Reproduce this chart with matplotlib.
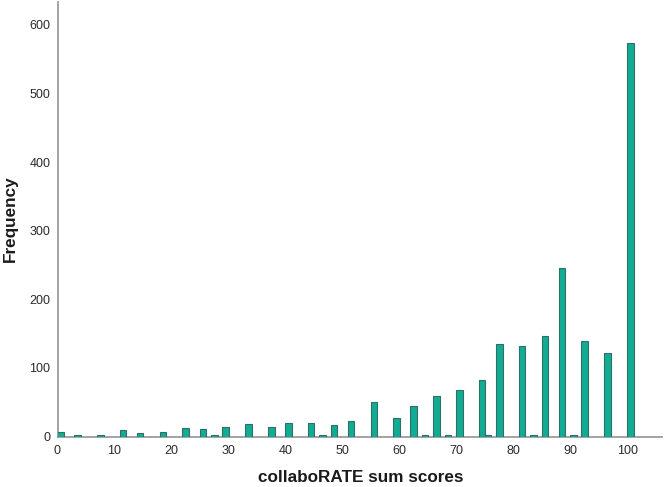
import matplotlib
matplotlib.use("Agg")
import matplotlib.pyplot as plt

scores = [0, 3, 7, 11, 14, 18, 22, 25, 27, 29, 33, 37, 40, 44, 46, 48, 51, 55, 59, 62,
          64, 66, 68, 70, 74, 75, 77, 81, 83, 85, 88, 90, 92, 96, 100]
frequency = [7, 2, 2, 9, 5, 7, 12, 11, 2, 14, 18, 14, 20, 19, 2, 17, 23, 51, 27, 44,
             2, 59, 2, 68, 83, 2, 135, 132, 2, 146, 246, 2, 139, 122, 574]
x_ticks = [0, 10, 20, 30, 40, 50, 60, 70, 80, 90, 100]
y_ticks = [0, 100, 200, 300, 400, 500, 600]

plt.rcParams["font.family"] = "Liberation Sans"
W, H = 666, 487
fig = plt.figure(figsize=(W / 100, H / 100), dpi=100)
L, R, T, B = 57.5, 662, 2, 436.5
ax = fig.add_axes([L / W, 1 - B / H, (R - L) / W, (B - T) / H])

ax.bar([s + 0.5 for s in scores], frequency, width=1.15, color="#12AC94",
       edgecolor="#2F6F66", linewidth=0.8, zorder=3)

ax.set_xlim(0, (R - L) / 5.7)
ax.set_ylim(0, (B - T) / 0.686)
ax.set_xticks(x_ticks)
ax.set_yticks(y_ticks)
ax.tick_params(length=0, labelsize=9, labelcolor="#2a2a2a")
ax.tick_params(axis="x", pad=6)
ax.tick_params(axis="y", pad=5)
for side in ("top", "right"):
    ax.spines[side].set_visible(False)
for side in ("left", "bottom"):
    ax.spines[side].set_color("#9c9c9c")
    ax.spines[side].set_linewidth(1.3)

fig.text(360.5 / W, 1 - 478 / H, "collaboRATE sum scores", fontsize=12.3, fontweight="bold",
         color="#1a1a1a", ha="center", va="center")
fig.text(10 / W, 1 - 218.5 / H, "Frequency", fontsize=12.3, fontweight="bold", color="#1a1a1a",
         rotation=90, ha="center", va="center")

fig.savefig("out.png", dpi=100)
